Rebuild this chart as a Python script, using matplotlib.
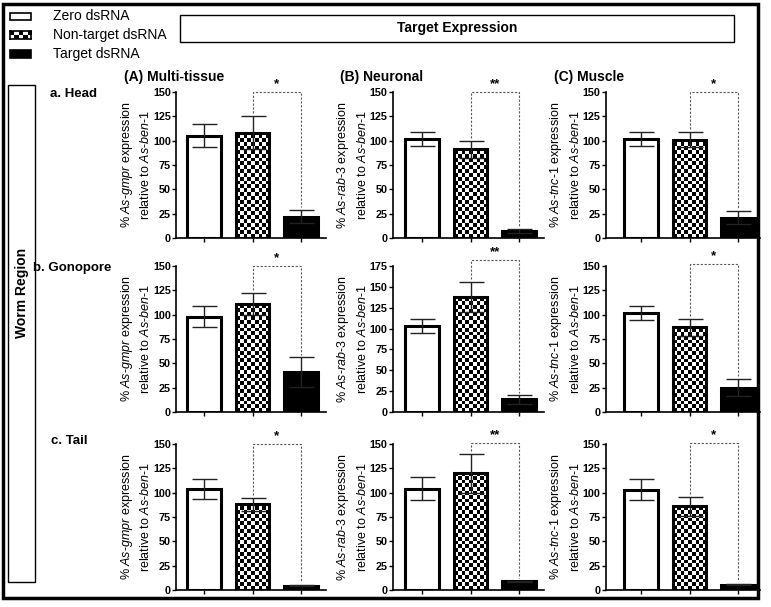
import numpy as np
import matplotlib
matplotlib.use('Agg')
import matplotlib.pyplot as plt
from matplotlib.patches import Rectangle

plt.rcParams['font.family'] = ['Liberation Sans', 'DejaVu Sans']
plt.rcParams['mathtext.fontset'] = 'custom'
plt.rcParams['mathtext.it'] = 'Liberation Sans:italic'
plt.rcParams['mathtext.rm'] = 'Liberation Sans'

######### data
groups = ['Zero dsRNA', 'Non-target dsRNA', 'Target dsRNA']
regions = ['a. Head', 'b. Gonopore', 'c. Tail']
tissues = ['(A) Multi-tissue', '(B) Neuronal', '(C) Muscle']
genes = ['gmpr', 'rab', 'tnc']
gene_suffix = ['', '-3', '-1']

head_mean = [[105, 108, 22], [102, 91, 7], [102, 101, 21]]
head_err = [[12, 17, 7], [7, 9, 2], [7, 8, 7]]
gono_mean = [[98, 111, 41], [103, 138, 15], [102, 87, 25]]
gono_err = [[11, 11.5, 15], [8, 18, 5], [7, 8.5, 9]]
tail_mean = [[104, 88, 4.5], [104, 120, 9], [103, 86, 5.5]]
tail_err = [[10, 7, 0.5], [12, 20, 0.5], [11, 10, 0.5]]
stars = [['*', '**', '*'], ['*', '**', '*'], ['*', '**', '*']]
ymax = [[150, 150, 150], [150, 175, 150], [150, 150, 150]]
bracket_top = [[150, 150, 150], [150, 182, 152], [150, 151, 151]]

means = [head_mean, gono_mean, tail_mean]
errs = [head_err, gono_err, tail_err]

######### layout (pixels)
W, H = 771, 607
fig = plt.figure(figsize=(W / 100, H / 100), dpi=100)

def fx(px):
    return px / W

def fy(py):
    return 1 - py / H

tick0 = [204, 422, 641]
spacing = 48.5
xlims = [(-0.57, 2.51), (-0.6, 2.52), (-0.72, 2.45)]
rows_px = [(92, 238), (266, 412), (444, 590)]
labelsize = 7.8
board_cells = 9


def checker_bar(ax, rect, ytop):
    x0 = rect.get_x()
    w = rect.get_width()
    h = rect.get_height()
    cell_y = 3.8 * ytop / 146.0
    ny = int(np.ceil(h / cell_y)) + 1
    board = np.indices((ny, board_cells)).sum(axis=0) % 2
    im = ax.imshow(board, extent=(x0, x0 + w, 0, ny * cell_y), cmap='gray',
                   interpolation='nearest', aspect='auto', origin='lower', zorder=1.5)
    im.set_clip_path(rect)


for r in range(3):
    top_px, bot_px = rows_px[r]
    for c in range(3):
        xl = xlims[c]
        left_px = tick0[c] + xl[0] * spacing
        right_px = tick0[c] + xl[1] * spacing
        ax = fig.add_axes([fx(left_px), fy(bot_px), fx(right_px - left_px), (bot_px - top_px) / H])
        x = np.arange(3)
        vals = means[r][c]
        ee = errs[r][c]
        bars = ax.bar(x, vals, width=0.7, color=['white', 'white', 'black'],
                      edgecolor='black', linewidth=2.2, zorder=2)
        bars[1].set_facecolor('none')
        checker_bar(ax, bars[1], ymax[r][c])
        ax.errorbar(x, vals, yerr=ee, fmt='none', ecolor='#222222', elinewidth=1.0,
                    capsize=9, capthick=1.0, zorder=3)
        # significance bracket
        bt = bracket_top[r][c]
        ax.plot([1, 1, 2, 2], [vals[1] + ee[1] + 3, bt, bt, vals[2] + ee[2] + 3],
                ls=(0, (2, 1.5)), color='0.35', lw=0.8, clip_on=False, zorder=4)
        ax.text(1.5, bt + ymax[r][c] * 0.015, stars[r][c], ha='center', va='bottom',
                fontsize=9.5, fontweight='bold')
        ax.set_xlim(xl)
        ax.set_ylim(0, ymax[r][c])
        ax.set_yticks(np.arange(0, ymax[r][c] + 1, 25))
        ax.set_xticks(x)
        ax.set_xticklabels([])
        for s in ['top', 'right']:
            ax.spines[s].set_visible(False)
        for s in ['left', 'bottom']:
            ax.spines[s].set_linewidth(1.2)
        ax.tick_params(axis='both', length=3, width=1.0, labelsize=labelsize, pad=1)
        for t in ax.get_yticklabels():
            t.set_fontweight('bold')
        g = genes[c]
        ax.set_ylabel(r'% $\it{As}$-$\it{' + g + '}$' + gene_suffix[c] + ' expression\n'
                      + r'relative to $\it{As}$-$\it{ben}$-1',
                      fontsize=9, linespacing=1.45, labelpad=0.5)

######### titles and labels
for c in range(3):
    xpos = [174, 382, 589][c]
    fig.text(fx(xpos), fy(77), tissues[c], ha='center', va='center', fontsize=10, fontweight='bold')
for r in range(3):
    xpos = [74, 72, 69][r]
    ypos = [94, 268, 441][r]
    fig.text(fx(xpos), fy(ypos), regions[r], ha='center', va='center', fontsize=9.5, fontweight='bold')

# boxes
fig.add_artist(Rectangle((fx(3), fy(598)), fx(755), (598 - 4) / H, transform=fig.transFigure,
                         fill=False, lw=2.5, ec='black'))
fig.add_artist(Rectangle((fx(180), fy(42)), fx(554), 27 / H, transform=fig.transFigure,
                         fill=False, lw=1.0, ec='black'))
fig.text(fx(457), fy(28), 'Target Expression', ha='center', va='center', fontsize=10, fontweight='bold')
fig.add_artist(Rectangle((fx(8), fy(582)), fx(27), (582 - 85) / H, transform=fig.transFigure,
                         fill=False, lw=1.0, ec='black'))
fig.text(fx(22), fy(293), 'Worm Region', ha='center', va='center', rotation=90,
         fontsize=10, fontweight='bold')

# legend
leg_y = [16, 35, 54]
fig.add_artist(Rectangle((fx(10), fy(20)), fx(21), 7 / H, transform=fig.transFigure,
                         fc='white', ec='black', lw=1.2))
lax = fig.add_axes([fx(10), fy(39), fx(21), 8 / H])
lax.imshow(np.indices((2, 5)).sum(axis=0) % 2, cmap='gray', aspect='auto', interpolation='nearest')
lax.set_xticks([])
lax.set_yticks([])
for s in lax.spines.values():
    s.set_linewidth(1.2)
fig.add_artist(Rectangle((fx(10), fy(58)), fx(21), 8 / H, transform=fig.transFigure,
                         fc='black', ec='black', lw=1.2))
for i, gname in enumerate(groups):
    fig.text(fx(53), fy(leg_y[i]), gname, ha='left', va='center', fontsize=10)

plt.savefig('out.png', dpi=100)
